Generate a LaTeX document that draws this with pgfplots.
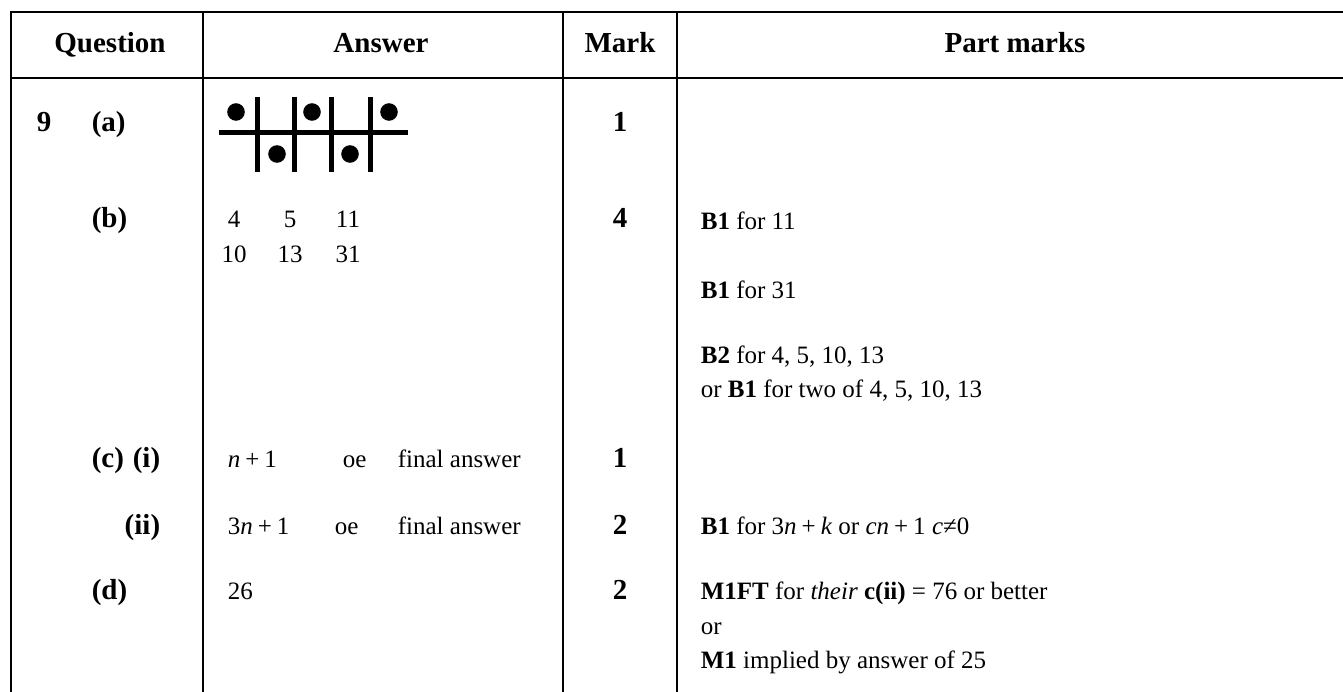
\documentclass[border=0pt]{standalone}
\usepackage{fontspec}
\setmainfont{Liberation Serif}
\usepackage{pgfplots}
\pgfplotsset{compat=1.18}
\newcommand\gap{\hspace{0.2em}}

\begin{document}
\begin{tikzpicture}
\begin{axis}[
  width=537.2pt,height=276.4pt,scale only axis,
  xmin=0,xmax=1343,ymin=0,ymax=691,y dir=reverse,
  hide axis,clip=true,
  every node/.style={font=\fontsize{11.6}{14}\selectfont,inner sep=0pt},
  rule/.style={black,line width=1.1pt,line cap=rect,no marks}]
% table rules
\addplot[rule] coordinates {(11,12) (1360,12)};
\addplot[rule] coordinates {(11,78) (1360,78)};
\addplot[rule] coordinates {(11,12) (11,700)};
\addplot[rule] coordinates {(203,12) (203,700)};
\addplot[rule] coordinates {(563,12) (563,700)};
\addplot[rule] coordinates {(677,12) (677,700)};
% answer (a): the pattern of dots and bars
\addplot[black,line width=2pt,no marks] coordinates {(219,133) (408,133)};
\addplot[black,line width=2pt,no marks] coordinates {(257,97) (257,172)};
\addplot[black,line width=2pt,no marks] coordinates {(294,97) (294,172)};
\addplot[black,line width=2pt,no marks] coordinates {(331,97) (331,172)};
\addplot[black,line width=2pt,no marks] coordinates {(370,97) (370,172)};
\addplot[only marks,mark=*,mark size=3.3pt,black] coordinates {(236,112) (312,112) (389,112) (277,154) (350,154)};

% header
\node[anchor=mid,font=\fontsize{11.6}{14}\selectfont\bfseries] at (axis cs:110,47) {Question};
\node[anchor=mid,font=\fontsize{11.6}{14}\selectfont\bfseries] at (axis cs:381,47) {Answer};
\node[anchor=mid,font=\fontsize{11.6}{14}\selectfont\bfseries] at (axis cs:620,47) {Mark};
\node[anchor=mid,font=\fontsize{11.6}{14}\selectfont\bfseries] at (axis cs:1015,47) {Part marks};

% question labels
\node[anchor=mid west,font=\fontsize{11.6}{14}\selectfont\bfseries] at (axis cs:28,126) {9};
\node[anchor=mid west,font=\fontsize{11.6}{14}\selectfont\bfseries] at (axis cs:83,126) {(a)};
\node[anchor=mid west,font=\fontsize{11.6}{14}\selectfont\bfseries] at (axis cs:83,222) {(b)};
\node[anchor=mid west,font=\fontsize{11.6}{14}\selectfont\bfseries] at (axis cs:83,462) {(c)};
\node[anchor=mid east,font=\fontsize{11.6}{14}\selectfont\bfseries] at (axis cs:169,462) {(i)};
\node[anchor=mid east,font=\fontsize{11.6}{14}\selectfont\bfseries] at (axis cs:169,529) {(ii)};
\node[anchor=mid west,font=\fontsize{11.6}{14}\selectfont\bfseries] at (axis cs:83,594) {(d)};

% answers
\node[anchor=mid] at (axis cs:234,222) {4};
\node[anchor=mid] at (axis cs:290,222) {5};
\node[anchor=mid] at (axis cs:348,222) {11};
\node[anchor=mid] at (axis cs:234,257) {10};
\node[anchor=mid] at (axis cs:290,257) {13};
\node[anchor=mid] at (axis cs:348,257) {31};
\node[anchor=mid west] at (axis cs:219,462) {\textit{n}\gap+\gap1};
\node[anchor=mid west] at (axis cs:334,462) {oe};
\node[anchor=mid west] at (axis cs:389,462) {final answer};
\node[anchor=mid west] at (axis cs:219,529) {3\textit{n}\gap+\gap1};
\node[anchor=mid west] at (axis cs:326,529) {oe};
\node[anchor=mid west] at (axis cs:389,529) {final answer};
\node[anchor=mid west] at (axis cs:219,594) {26};

% marks
\node[anchor=mid,font=\fontsize{11.6}{14}\selectfont\bfseries] at (axis cs:620,126) {1};
\node[anchor=mid,font=\fontsize{11.6}{14}\selectfont\bfseries] at (axis cs:620,222) {4};
\node[anchor=mid,font=\fontsize{11.6}{14}\selectfont\bfseries] at (axis cs:620,462) {1};
\node[anchor=mid,font=\fontsize{11.6}{14}\selectfont\bfseries] at (axis cs:620,529) {2};
\node[anchor=mid,font=\fontsize{11.6}{14}\selectfont\bfseries] at (axis cs:620,594) {2};

% part marks
\node[anchor=mid west] at (axis cs:692,224) {\textbf{B1} for 11};
\node[anchor=mid west] at (axis cs:692,293) {\textbf{B1} for 31};
\node[anchor=mid west] at (axis cs:692,358) {\textbf{B2} for 4, 5, 10, 13};
\node[anchor=mid west] at (axis cs:692,392) {or \textbf{B1} for two of 4, 5, 10, 13};
\node[anchor=mid west] at (axis cs:692,529) {\textbf{B1} for 3\textit{n}\gap+\gap\textit{k} or \textit{cn}\gap+\gap1 \textit{c}≠0};
\node[anchor=mid west] at (axis cs:692,594) {\textbf{M1FT} for \textit{their} \textbf{c(ii)} = 76 or better};
\node[anchor=mid west] at (axis cs:692,629) {or};
\node[anchor=mid west] at (axis cs:692,663) {\textbf{M1} implied by answer of 25};
\end{axis}
\pgfresetboundingbox
\path (current axis.south west) rectangle (current axis.north east);
\end{tikzpicture}
\end{document}
